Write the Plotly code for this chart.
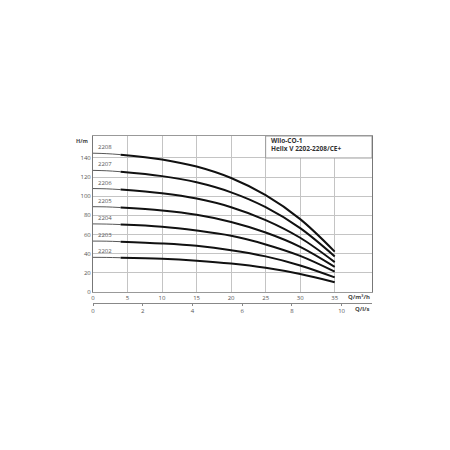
import plotly.graph_objects as go

# pump curves: H/m against Q/m3/h for each stage count
flow = [0, 2, 4, 10, 15, 20, 25, 30, 35]
stage_names = ['2208', '2207', '2206', '2205', '2204', '2203', '2202']
h_2208 = [145, 144.5, 143.5, 138.5, 131, 119, 101, 76, 42]
h_2207 = [127, 126.6, 125.6, 121, 114.5, 104, 88.5, 66.5, 37]
h_2206 = [108, 107.7, 106.9, 103, 97.5, 88.5, 75, 56.5, 31]
h_2205 = [89, 88.8, 88.1, 85, 80.5, 73, 62, 47, 26]
h_2204 = [71, 70.8, 70.3, 68, 64, 58.5, 49.5, 37.5, 21]
h_2203 = [53, 52.9, 52.4, 50.5, 48, 43.5, 37, 27.5, 15]
h_2202 = [36, 35.9, 35.6, 34.5, 32.5, 29.5, 25, 18.5, 10]
heads = [h_2208, h_2207, h_2206, h_2205, h_2204, h_2203, h_2202]

x_ticks = [0, 5, 10, 15, 20, 25, 30, 35]
y_ticks = [0, 20, 40, 60, 80, 100, 120, 140]
ls_ticks = [0, 2, 4, 6, 8, 10]

XMAX = 40.4
YMAX = 163
FONT = 'Open Sans'
grid = '#c4c4c4'

fig = go.Figure()
for name, h in zip(stage_names, heads):
    # thin part before the working range
    fig.add_trace(go.Scatter(x=flow[:3], y=h[:3], mode='lines',
                             line=dict(color='#444', width=0.9, shape='spline'),
                             showlegend=False, hoverinfo='skip'))
    fig.add_trace(go.Scatter(x=flow[2:], y=h[2:], mode='lines',
                             line=dict(color='#111', width=2, shape='spline'),
                             showlegend=False))
    fig.add_annotation(x=1.7, y=h[0], text=name, showarrow=False, yshift=6,
                       font=dict(family=FONT, size=6, color='#555'))

# dummy trace to make the l/s axis show
fig.add_trace(go.Scatter(x=[0], y=[None], xaxis='x2', showlegend=False))

# title box in the top right corner
fig.add_shape(type='rect', x0=25, x1=XMAX, y0=140, y1=YMAX, xref='x', yref='y',
              fillcolor='white', line=dict(color='#999', width=1), layer='above')
fig.add_annotation(x=25.5, y=158.5, text='<b>Wilo-CO-1</b>', showarrow=False,
                   xanchor='left', font=dict(family=FONT, size=6.5, color='#333'))
fig.add_annotation(x=25.5, y=149.5, text='<b>Helix V 2202-2208/CE+</b>', showarrow=False,
                   xanchor='left', font=dict(family=FONT, size=6.5, color='#333'))

fig.add_annotation(x=-0.01, y=0.97, xref='paper', yref='paper', text='<b>H/m</b>',
                   showarrow=False, xanchor='right', yanchor='middle',
                   font=dict(family=FONT, size=5.5, color='#444'))
fig.add_annotation(x=1.0, y=0.038, xref='paper', yref='paper', text='<b>Q/m³/h</b>',
                   showarrow=False, xanchor='right', yanchor='middle',
                   font=dict(family=FONT, size=6, color='#444'))
fig.add_annotation(x=1.0, y=-0.038, xref='paper', yref='paper', text='<b>Q/l/s</b>',
                   showarrow=False, xanchor='right', yanchor='middle',
                   font=dict(family=FONT, size=6, color='#444'))

fig.update_layout(
    width=442, height=442,
    margin=dict(l=85, r=78, t=128, b=147),
    plot_bgcolor='white', paper_bgcolor='white',
    xaxis=dict(range=[0, XMAX], tickvals=x_ticks, showgrid=True, gridcolor=grid,
               gridwidth=1, zeroline=False, showline=True, linecolor='#999',
               mirror=True, ticks='', anchor='y',
               tickfont=dict(family=FONT, size=6, color='#555')),
    yaxis=dict(range=[0, YMAX], tickvals=y_ticks, domain=[0.0675, 1],
               showgrid=True, gridcolor=grid, gridwidth=1, zeroline=False,
               showline=True, linecolor='#777', mirror=True, ticks='',
               tickfont=dict(family=FONT, size=6, color='#555')),
    xaxis2=dict(range=[0, XMAX / 3.6], tickvals=ls_ticks, anchor='free',
                overlaying='x', position=0, side='bottom', showgrid=False,
                zeroline=False, showline=True, linecolor='#888', ticks='outside',
                ticklen=2, tickcolor='#888',
                tickfont=dict(family=FONT, size=6, color='#555')),
)

fig.write_html('out.html')
